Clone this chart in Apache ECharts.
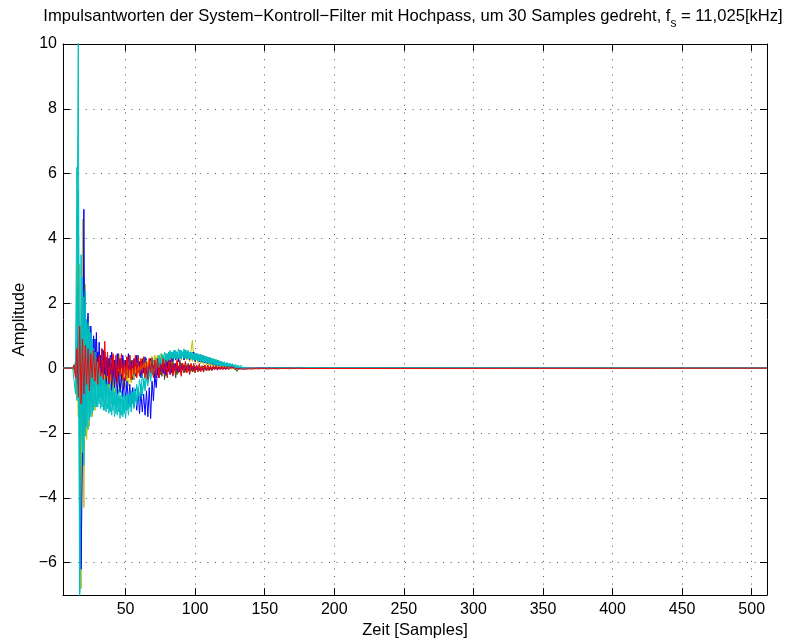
<!DOCTYPE html>
<html>
<head>
<meta charset="utf-8">
<script src="https://cdn.jsdelivr.net/npm/echarts@6/dist/echarts.min.js"></script>
<style>html,body{margin:0;padding:0;background:#fff;}#c{width:799px;height:644px;}</style>
</head>
<body>
<div id="c"></div>
<script>
// sample index of the first value in each array
const startSample = 12;
// samples outside the arrays rest at zero
const restSamples = [5, 511];
const restValue = 0;

const xTicks = [50, 100, 150, 200, 250, 300, 350, 400, 450, 500];
const yTicks = [-6, -4, -2, 0, 2, 4, 6, 8, 10];

const gray = [
0,0.02,-0.1,0.3,-0.6,0.9,-1.1,0.8,-0.5,0.7,
-0.6,0.5,-0.4,0.6,-0.3,0.4,-0.5,0.3,-0.2,0.45,
-0.35,0.3,-0.45,0.35,-0.2,0.3,-0.4,0.25,-0.15,0.4,
-0.3,0.2,-0.35,0.45,-0.15,0.3,-0.4,0.15,-0.25,0.35,
-0.3,0.4,-0.15,0.25,-0.35,0.3,-0.2,0.4,-0.1,0.2,
-0.3,0.35,-0.2,0.3,-0.4,0.15,-0.15,0.35,-0.25,0.2,
-0.3,0.25,-0.15,0.3,-0.25,0.15,-0.35,0.2,-0.1,0.25,
-0.2,0.15,-0.25,0.1,-0.3,0.2,-0.15,0.25,-0.2,0.15,
-0.15,0.2,-0.1,0.15,-0.2,0.12,-0.12,0.1,-0.15,0.1,
-0.08,0.12,-0.1,0.06,-0.12,0.08,-0.05,0.1,-0.08,0.05,
-0.06,0.08,-0.04,0.05,-0.06,0.04,-0.03,0.05,-0.04,0.03,
-0.04,0.03,-0.03,0.03,-0.03,0.02,-0.02,0.02,-0.02,0.01,
-0.02,0.02,-0.01,0.01,-0.02,0.01,-0.01,0.01,-0.01,0
];
const green = [
0,0,0.05,-0.2,0.6,-0.9,0.7,-0.4,0.8,-0.6,
0.5,-0.7,0.4,-0.3,0.5,-0.45,0.3,-0.2,0.35,-0.3,
0.25,-0.15,0.3,-0.25,0.1,-0.2,0.3,-0.1,0.15,-0.25,
0.2,-0.1,0.25,-0.2,0.05,-0.15,0.3,-0.1,0.2,-0.15,
0.1,-0.2,0.25,-0.05,0.15,-0.2,0.1,-0.15,0.2,-0.1,
0.3,-0.05,0.1,-0.25,0.15,-0.1,0.2,-0.2,0.05,-0.15,
0.25,-0.1,0.1,-0.2,0.15,-0.05,0.2,-0.25,0.1,-0.1,
0.15,-0.15,0.2,-0.05,0.1,-0.2,0.05,-0.1,0.15,-0.05,
0.1,-0.12,0.08,-0.05,0.1,-0.08,0.04,-0.1,0.06,-0.04,
0.05,-0.08,0.03,-0.05,0.06,-0.03,0.02,-0.06,0.03,-0.04,
0.02,-0.03,0.04,-0.02,0.01,-0.03,0.02,-0.02,0.01,-0.02,
0.01,-0.02,0.02,-0.01,0.01,-0.02,0.01,-0.04,-0.1,-0.03,
0.01,-0.01,0.01,-0.02,0.01,-0.01,0.02,-0.01,0.01,-0.02,
0.01,-0.01,0.01,-0.01,0.02,-0.01,0.01,-0.01,0.01,-0.01,
0.01,0,0.01,-0.01,0.01,0,-0.01,0.01,0,0
];
const magenta = [
0,0,0,0.1,-0.3,0.5,-0.4,0.3,-0.5,0.4,
-0.3,0.35,-0.25,0.2,-0.3,0.25,-0.15,0.2,-0.2,0.1,
-0.15,0.2,-0.1,0.15,-0.2,0.1,-0.05,0.15,-0.1,0.05,
-0.15,0.1,-0.1,0.2,-0.05,0.1,-0.15,0.05,-0.1,0.15,
-0.05,0.1,-0.1,0.05,-0.15,0.1,-0.05,0.1,-0.1,0.05,
-0.1,0.15,-0.05,0.1,-0.1,0.05,-0.15,0.1,-0.05,0.05,
-0.1,0.1,-0.05,0.05,-0.1,0.05,-0.2,0.1,-0.05,0.08,
-0.2,0.05,-0.08,0.06,-0.05,0.08,-0.06,0.04,-0.05,0.06,
-0.04,0.05,-0.03,0.04,-0.05,0.03,-0.02,0.04,-0.03,0.02,
-0.02,0.03,-0.02,0.02,-0.01,0.02,-0.01,0.02,-0.01,0.01,
0,0.02,-0.01,0.03,0,0.04,0.01,0.05,0.02,0.06,
0.02,0.05,0.03,0.06,0.02,0.07,0.03,0.05,0.01,0.03,
0,0.02,-0.01,0.01,0
];
const yellow2 = [
0,0,0.1,0.5,-1.5,3.2,-3.5,1.8,-2.4,1.5,
-2.0,0.9,-1.4,0.5,-1.1,0.2,-0.9,0,-0.8,-0.1,
-0.7,-0.15,-0.65,-0.2,-0.6,-0.25,-0.65,-0.2,-0.55,-0.15,
-0.5,-0.1,-0.45,-0.05,-0.4,0,-0.35,0.05,-0.3,0.05,
-0.3,-0.05,-0.25,0,-0.2,0.05,-0.15,0.1,-0.1,0.15,
-0.05,0.2,0,0.25,0.05,0.3,0.1,0.35,0.15,0.4,
0.2,0.4,0.2,0.45,0.25,0.4,0.2,0.45,0.25,0.5,
0.25,0.45,0.3,0.5,0.25,0.45,0.3,0.5,0.3,0.45,
0.25,0.45,0.25,0.4,0.2,0.4,0.2,0.38,0.18,0.35,
0.16,0.32,0.14,0.3,0.12,0.27,0.1,0.24,0.08,0.2,
0.07,0.18,0.05,0.15,0.04,0.13,0.03,0.11,0.02,0.09,
0.01,0.08,0,0.06,0,0.05,-0.01,0.04,-0.01,0.03,
-0.01,0.02,0,0.02,0,0.01,0,0
];
const yellow = [
0,0.05,-0.2,1.0,4.0,-2.0,-6.8,4.6,-4.3,2.6,
-2.2,1.6,-1.8,1.2,-1.5,0.7,-1.3,0.4,-1.0,0.1,
-0.8,-0.1,-0.75,-0.2,-0.8,-0.3,-0.7,-0.35,-0.8,-0.3,
-0.75,-0.4,-0.8,-0.35,-0.7,-0.3,-0.65,-0.25,-0.6,-0.2,
-0.55,-0.15,-0.45,-0.1,-0.35,-0.05,-0.25,0.05,-0.15,0.1,
-0.05,0.15,0,0.2,0.05,0.25,0.1,0.3,0.1,0.35,
0.15,0.4,0.2,0.35,0.15,0.4,0.2,0.45,0.2,0.4,
0.25,0.45,0.2,0.4,0.25,0.45,0.2,0.4,0.25,0.45,
0.3,0.5,0.25,0.45,0.3,0.55,0.85,0.3,0.45,0.25,
0.42,0.22,0.4,0.2,0.38,0.18,0.35,0.15,0.32,0.13,
0.3,0.11,0.27,0.09,0.24,0.07,0.2,0.05,0.17,0.04,
0.15,0.03,0.12,0.02,0.1,0.01,0.08,0,0.07,0,
0.06,-0.01,0.05,-0.01,0.04,-0.01,0.03,-0.02,0.03,-0.01,
0.02,-0.01,0.02,-0.01,0.01,-0.01,0.01,0,0.01,0,
0.01,-0.01,0.01,0,0.02,-0.01,0.01,0,0.01,0,
0.01,-0.01,0.01,0,0.01,0,0.01,-0.01,0,0
];
const blue = [
0,0,0.1,-0.5,2.5,-1.5,-6.2,-2.6,4.9,-1.8,
0.9,1.7,-0.8,1.3,-0.6,1.0,-0.9,1.1,-0.5,0.8,
-0.7,0.6,-0.4,0.5,-0.6,0.3,-0.5,0.4,-0.7,0.1,
-0.6,0.05,-0.8,-0.1,-0.75,-0.2,-0.9,-0.3,-1.0,-0.4,
-1.1,-0.5,-1.15,-0.6,-1.2,-0.65,-1.3,-0.7,-1.4,-0.75,
-1.35,-0.8,-1.45,-0.7,-1.5,-0.6,-1.55,-0.4,-1.0,-0.2,
-0.6,0,-0.3,0.15,-0.1,0.3,0.05,0.4,0.1,0.5,
0.15,0.45,0.2,0.55,0.25,0.5,0.2,0.55,0.3,0.5,
0.25,0.55,0.3,0.5,0.25,0.45,0.3,0.5,0.2,0.45,
0.45,0.2,0.42,0.18,0.38,0.16,0.35,0.14,0.32,0.12,
0.28,0.1,0.25,0.08,0.22,0.06,0.19,0.05,0.16,0.04,
0.14,0.03,0.12,0.02,0.1,0.01,0.08,0,0.06,-0.01,
0.05,-0.01,0.04,-0.02,0.03,-0.02,0.02,-0.01,0.02,-0.01,
0.01,-0.01,0.01,0,0.01,0
];
const blue2 = [
0,0,0.05,-0.3,1.2,-0.9,0.5,-1.0,1.5,-0.6,
0.8,-0.9,1.1,-0.5,0.7,-0.6,0.9,-0.3,0.5,-0.55,
0.4,-0.3,0.55,-0.25,0.35,-0.45,0.3,-0.2,0.5,-0.35,
0.25,-0.4,0.45,-0.2,0.3,-0.35,0.4,-0.15,0.25,-0.3,
0.45,-0.2,0.2,-0.35,0.3,-0.25,0.4,-0.1,0.2,-0.3,
0.25,-0.15,0.35,-0.25,0.15,-0.2,0.3,-0.1,0.2,-0.25,
0.15,-0.2,0.25,-0.1,0.2,-0.15,0.1,-0.2,0.15,-0.1,
0.12,-0.15,0.1,-0.08,0.15,-0.1,0.06,-0.12,0.08,-0.05,
0.08,-0.06,0.05,-0.08,0.06,-0.04,0.05,-0.05,0.03,-0.04,
0.04,-0.03,0.02,-0.03,0.03,-0.02,0.02,-0.02,0.01,-0.01,
0.01,0
];
const cyan3 = [
0,0,0.2,-1.0,5.5,-3.2,-2.0,2.8,-3.0,2.4,
-1.8,1.2,-1.6,0.8,-1.4,0.6,-1.2,0.2,-1.0,-0.1,
-0.9,-0.2,-1.0,-0.35,-0.95,-0.4,-1.05,-0.5,-1.1,-0.55,
-1.15,-0.6,-1.2,-0.65,-1.25,-0.7,-1.3,-0.75,-1.3,-0.8,
-1.25,-0.8,-1.2,-0.75,-1.1,-0.7,-1.0,-0.6,-0.9,-0.5,
-0.75,-0.35,-0.6,-0.2,-0.45,-0.05,-0.3,0.05,-0.15,0.15,
0,0.25,0.1,0.3,0.15,0.4,0.2,0.45,0.25,0.5,
0.25,0.5,0.3,0.55,0.3,0.5,0.3,0.55,0.35,0.5,
0.3,0.5,0.3,0.55,0.3,0.5,0.25,0.45,0.25,0.45,
0.22,0.42,0.2,0.4,0.18,0.36,0.16,0.33,0.14,0.3,
0.12,0.27,0.1,0.24,0.08,0.21,0.07,0.19,0.06,0.17,
0.05,0.15,0.04,0.13,0.03,0.11,0.02,0.09,0.01,0.08,
0.01,0.07,0,0.06,0,0.05,-0.01,0.04,-0.01,0.03,
-0.01,0.02,-0.01,0.02,0,0.01,0,0.01,0,0
];
const cyanMid = [
0,0.1,-0.3,6.2,2.0,-6.9,3.5,-2.6,2.2,-2.1,
1.5,-1.9,1.3,-1.5,0.9,-1.3,0.5,-1.2,0.2,-1.1,
-0.1,-1.2,-0.3,-1.3,-0.5,-1.25,-0.6,-1.35,-0.7,-1.3,
-0.75,-1.4,-0.8,-1.35,-0.85,-1.45,-0.9,-1.4,-0.85,-1.3,
-0.8,-1.2,-0.7,-1.1,-0.6,-1.0,-0.5,-0.85,-0.35,-0.7,
-0.2,-0.5,-0.05,-0.35,0.05,-0.2,0.15,-0.05,0.25,0.05,
0.3,0.1,0.4,0.15,0.45,0.2,0.5,0.2,0.45,0.25,
0.55,0.25,0.5,0.3,0.55,0.3,0.6,0.3,0.55,0.35,
0.6,0.3,0.55,0.3,0.5,0.3,0.5,0.25,0.45,0.25,
0.45,0.22,0.42,0.2,0.4,0.18,0.36,0.16,0.33,0.14,
0.3,0.12,0.27,0.1,0.24,0.08,0.21,0.07,0.18,0.06,
0.16,0.05,0.14,0.04,0.12,0.03,0.1,0.02,0.08,0.01,
0.07,0.01,0.06,0,0.05,0,0.04,-0.01,0.03,-0.01,
0.03,-0.01,0.02,-0.02,0.02,-0.01,0.01,-0.01,0.01,0,
0.01,-0.01,0.01,0,0
];
const cyanPeak = [
0,0.05,-0.8,3.0,10.5,-7.5,1.0,1.6,-1.2,1.9,
-1.6,1.4,-1.4,1.1,-1.2,0.6,-1.1,0.3,-1.2,0,
-1.25,-0.3,-1.3,-0.5,-1.35,-0.6,-1.4,-0.7,-1.45,-0.8,
-1.5,-0.85,-1.45,-0.9,-1.55,-0.95,-1.5,-1.0,-1.55,-1.0,
-1.45,-0.95,-1.35,-0.9,-1.25,-0.8,-1.15,-0.7,-1.0,-0.55,
-0.85,-0.4,-0.7,-0.25,-0.55,-0.1,-0.4,0,-0.25,0.1,
-0.1,0.2,0,0.25,0.1,0.35,0.15,0.4,0.2,0.45,
0.25,0.5,0.3,0.55,0.3,0.5,0.35,0.55,0.3,0.5,
0.35,0.55,0.3,0.5,0.3,0.45,0.3,0.45,0.25,0.4,
0.25,0.42,0.22,0.4,0.2,0.38,0.2,0.35,0.18,0.33,
0.16,0.3,0.14,0.28,0.12,0.25,0.1,0.22,0.09,0.2,
0.08,0.18,0.06,0.16,0.05,0.14,0.04,0.12,0.03,0.1,
0.02,0.09,0.02,0.08,0.01,0.07,0.01,0.06,0,0.05,
0,0.04,-0.01,0.04,-0.01,0.03,-0.01,0.03,-0.02,0.02,
-0.02,0.02,-0.02,0.02,-0.01,0.01,-0.02,0.01,-0.01,0.01,
-0.01,0.02,-0.01,0.01,-0.01,0.01,-0.02,0.01,-0.01,0.01,
-0.01,0.01,0,0.01,-0.01,0.01,0,0.01,-0.01,0,
0.01,-0.01,0.01,0,0.01,-0.01,0,0.01,0,0
];
const red = [
0,0.1,-0.3,0.6,-0.9,1.3,-1.1,0.9,-0.8,0.7,
-0.5,0.6,-0.7,0.45,-0.3,0.55,-0.4,0.3,-0.5,0.4,
-0.25,0.6,-0.35,0.83,-0.3,0.5,-0.45,0.35,-0.4,0.45,
-0.3,0.4,-0.45,0.3,-0.25,0.45,-0.35,0.25,-0.4,0.35,
-0.3,0.4,-0.35,0.25,-0.2,0.4,-0.3,0.35,-0.25,0.3,
-0.2,0.35,-0.3,0.2,-0.35,0.3,-0.15,0.3,-0.3,0.25,
-0.25,0.3,-0.3,0.15,-0.2,0.3,-0.15,0.25,-0.3,0.2,
-0.15,0.3,-0.2,0.15,-0.2,0.25,-0.15,0.2,-0.25,0.15,
-0.12,0.2,-0.15,0.12,-0.18,0.15,-0.1,0.15,-0.12,0.1,
-0.12,0.14,-0.1,0.08,-0.12,0.1,-0.08,0.1,-0.06,0.08,
-0.08,0.06,-0.05,0.07,-0.06,0.05,-0.05,0.06,-0.04,0.05,
-0.04,0.04,-0.05,0.03,-0.03,0.04,-0.03,0.03,-0.03,0.03,
-0.02,0.03,-0.03,0.02,-0.02,0.03,-0.02,0.02,-0.02,0.02,
-0.02,0.02,-0.01,0.02,-0.02,0.01,-0.01,0.02,-0.01,0.01,
-0.02,0.01,-0.01,0.02,-0.01,0.01,-0.01,0.01,-0.02,0.01,
-0.01,0.01,-0.01,0.01,-0.01,0.01,0,0.01,-0.01,0.01,
-0.01,0.01,0,0.01,-0.01,0
];

const seriesDefs = [
  {name: 'gray', data: gray, color: '#404040'},
  {name: 'green', data: green, color: '#008000'},
  {name: 'magenta', data: magenta, color: '#bf00bf'},
  {name: 'blue2', data: blue2, color: '#0000ff'},
  {name: 'yellow2', data: yellow2, color: '#bfbf00'},
  {name: 'yellow', data: yellow, color: '#bfbf00'},
  {name: 'blue', data: blue, color: '#0000ff'},
  {name: 'cyan3', data: cyan3, color: '#00bfbf'},
  {name: 'cyanMid', data: cyanMid, color: '#00bfbf'},
  {name: 'cyanPeak', data: cyanPeak, color: '#00bfbf'},
  {name: 'red', data: red, color: '#ff0000'}
];

function toPoints(arr) {
  const pts = [[restSamples[0], restValue]];
  arr.forEach((v, i) => pts.push([startSample + i, v]));
  pts.push([restSamples[1], restValue]);
  return pts;
}

const FONT = 'Liberation Sans, Arial, Helvetica, sans-serif';
const minus = v => String(v).replace('-', '\u2212');
const gridDots = {show: true, lineStyle: {color: '#555', width: 1, type: [1, 6.6]}};

const chart = echarts.init(document.getElementById('c'), null, {renderer: 'canvas'});
chart.setOption({
  animation: false,
  backgroundColor: '#fff',
  title: {
    text: '{n|Impulsantworten der System\u2212Kontroll\u2212Filter mit Hochpass, um 30 Samples gedreht, f}{s|s}{n| = 11,025[kHz]}',
    left: 408, top: 3, textAlign: 'center',
    textStyle: {
      fontWeight: 'normal',
      rich: {
        n: {fontFamily: FONT, fontSize: 16.6, fontWeight: 'normal', color: '#000', lineHeight: 18, verticalAlign: 'top'},
        s: {fontFamily: FONT, fontSize: 12, fontWeight: 'normal', color: '#000', lineHeight: 32}
      }
    }
  },
  grid: {left: 63, right: 32, top: 44, bottom: 46, containLabel: false},
  xAxis: [{
    type: 'value', min: restSamples[0], max: restSamples[1], splitNumber: xTicks.length,
    axisLine: {show: true, onZero: false, lineStyle: {color: '#000', width: 1}},
    axisTick: {show: true, inside: true, length: 7, lineStyle: {color: '#000'}},
    axisLabel: {show: true, color: '#000', fontFamily: FONT, fontSize: 16, margin: 6,
      showMinLabel: false, showMaxLabel: false,
      formatter: v => xTicks.includes(v) ? minus(v) : ''},
    splitLine: gridDots,
    name: 'Zeit [Samples]', nameLocation: 'middle', nameGap: 26,
    nameTextStyle: {color: '#000', fontFamily: FONT, fontSize: 16.5}
  }, {
    type: 'value', position: 'top', min: restSamples[0], max: restSamples[1], splitNumber: xTicks.length,
    axisLine: {show: true, onZero: false, lineStyle: {color: '#000', width: 1}},
    axisTick: {show: true, inside: true, length: 7, lineStyle: {color: '#000'}},
    axisLabel: {show: false}, splitLine: {show: false}
  }],
  yAxis: [{
    type: 'value', min: -7, max: 10, splitNumber: 8,
    axisLine: {show: true, onZero: false, lineStyle: {color: '#000', width: 1}},
    axisTick: {show: true, inside: true, length: 7, lineStyle: {color: '#000'}},
    axisLabel: {show: true, color: '#000', fontFamily: FONT, fontSize: 16, margin: 6,
      showMinLabel: false,
      formatter: v => yTicks.includes(v) ? minus(v) : ''},
    splitLine: gridDots,
    name: 'Amplitude', nameLocation: 'middle', nameGap: 34, nameRotate: 90,
    nameTextStyle: {color: '#000', fontFamily: FONT, fontSize: 16.5}
  }, {
    type: 'value', position: 'right', min: -7, max: 10, splitNumber: 8,
    axisLine: {show: true, onZero: false, lineStyle: {color: '#000', width: 1}},
    axisTick: {show: true, inside: true, length: 7, lineStyle: {color: '#000'}},
    axisLabel: {show: false}, splitLine: {show: false}
  }],
  series: seriesDefs.map(s => ({
    name: s.name, type: 'line', xAxisIndex: 0, yAxisIndex: 0,
    data: toPoints(s.data), symbol: 'none', showSymbol: false, silent: true,
    lineStyle: {color: s.color, width: 1}, itemStyle: {color: s.color},
    clip: true
  }))
});
</script>
</body>
</html>
